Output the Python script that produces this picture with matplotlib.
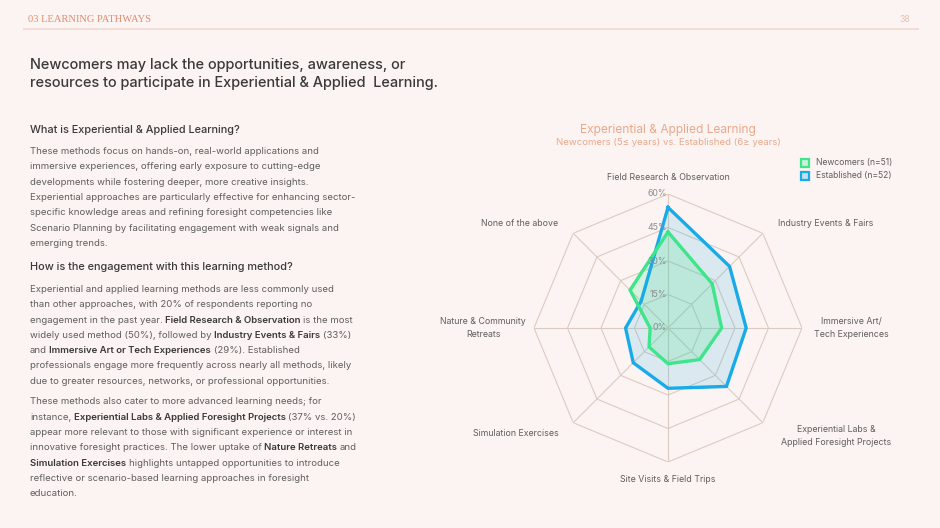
import numpy as np
import matplotlib
matplotlib.use("Agg")
import matplotlib.pyplot as plt
from matplotlib.lines import Line2D
from matplotlib.patches import Rectangle

# ------------------------------
# data
# ------------------------------
categories = ["Field Research & Observation", "Industry Events & Fairs",
              "Immersive Art/\nTech Experiences",
              "Experiential Labs &\nApplied Foresight Projects",
              "Site Visits & Field Trips", "Simulation Exercises",
              "Nature & Community\nRetreats", "None of the above"]
newcomers = [43, 28, 24, 20, 16, 12, 8, 24]
established = [54, 39, 35, 37, 27, 22, 19, 17]
series_names = ["Newcomers (n=51)", "Established (n=52)"]
r_ticks = [0, 15, 30, 45, 60]

# ------------------------------
# style
# ------------------------------
W, H = 940, 528
BG = "#FCF4F2"
DARK = "#3A3A3A"
BODY = "#5E5E5E"
PEACH = "#E8A88A"
GRID = "#DCCBC1"
BLUE = "#18ABE8"
GREEN = "#3FE58A"
FONT = ["Inter", "DejaVu Sans"]
BODY_SIZE = 6.9

plt.rcParams["font.family"] = FONT

fig = plt.figure(figsize=(W / 100, H / 100), dpi=100)
fig.patch.set_facecolor(BG)
renderer = fig.canvas.get_renderer()


def fx(x):
    return x / W


def fy(y):
    return 1 - y / H


def text_w(s, **kw):
    t = fig.text(0, 0, s, **kw)
    w = t.get_window_extent(renderer).width
    t.remove()
    return w


def rich_line(x, y, parts, size=BODY_SIZE):
    # parts: list of (text, bold)
    cx = x
    sp = text_w("a a", fontsize=size) - text_w("aa", fontsize=size)
    for txt, bold in parts:
        kw = dict(fontsize=size, fontweight="semibold" if bold else "normal")
        lead = len(txt) - len(txt.lstrip(" "))
        trail = len(txt) - len(txt.rstrip(" "))
        core = txt.strip(" ")
        cx += lead * sp
        if core:
            t = fig.text(fx(cx), fy(y), core, color=DARK if bold else BODY,
                         va="baseline", ha="left", **kw)
            cx += t.get_window_extent(renderer).width - 0.3
        cx += trail * sp


# ------------------------------
# header
# ------------------------------
fig.text(fx(28), fy(20), "03 LEARNING PATHWAYS", family="Liberation Serif",
         fontsize=7.6, color="#E08C6C", va="center", ha="left")
fig.text(fx(910), fy(20), "38", fontsize=6.3, color="#E6C2B2", va="center", ha="right")
fig.add_artist(Line2D([fx(24), fx(918)], [fy(29), fy(29)], color="#F1DAD1", lw=1.3))

fig.text(fx(30), fy(65), "Newcomers may lack the opportunities, awareness, or",
         fontsize=10.45, fontweight="medium", color=DARK, va="center", ha="left")
fig.text(fx(30), fy(83.5), "resources to participate in Experiential & Applied  Learning.",
         fontsize=10.45, fontweight="medium", color=DARK, va="center", ha="left")

# ------------------------------
# left text column
# ------------------------------
fig.text(fx(30), fy(130), "What is Experiential & Applied Learning?", fontsize=7.85,
         fontweight="medium", color=DARK, va="center", ha="left")

p1 = [
    [("These methods focus on hands-on, real-world applications and", False)],
    [("immersive experiences, offering early exposure to cutting-edge", False)],
    [("developments while fostering deeper, more creative insights.", False)],
    [("Experiential approaches are particularly effective for enhancing sector-", False)],
    [("specific knowledge areas and refining foresight competencies like", False)],
    [("Scenario Planning by facilitating engagement with weak signals and", False)],
    [("emerging trends.", False)],
]
for i, parts in enumerate(p1):
    rich_line(30, 150.7 + i * 15.33 + 3.3, parts)

fig.text(fx(30), fy(267.5), "How is the engagement with this learning method?", fontsize=7.85,
         fontweight="medium", color=DARK, va="center", ha="left")

p2 = [
    [("Experiential and applied learning methods are less commonly used", False)],
    [("than other approaches, with 20% of respondents reporting no", False)],
    [("engagement in the past year. ", False), ("Field Research & Observation", True),
     (" is the most", False)],
    [("widely used method (50%), followed by ", False), ("Industry Events & Fairs", True),
     (" (33%)", False)],
    [("and ", False), ("Immersive Art or Tech Experiences", True), (" (29%). Established", False)],
    [("professionals engage more frequently across nearly all methods, likely", False)],
    [("due to greater resources, networks, or professional opportunities.", False)],
]
for i, parts in enumerate(p2):
    rich_line(30, 288.7 + i * 15.27 + 3.3, parts)

p3 = [
    [("These methods also cater to more advanced learning needs; for", False)],
    [("instance, ", False), ("Experiential Labs & Applied Foresight Projects", True),
     (" (37% vs. 20%)", False)],
    [("appear more relevant to those with significant experience or interest in", False)],
    [("innovative foresight practices. The lower uptake of ", False),
     ("Nature Retreats", True), (" and", False)],
    [("Simulation Exercises", True), (" highlights untapped opportunities to introduce", False)],
    [("reflective or scenario-based learning approaches in foresight", False)],
    [("education.", False)],
]
for i, parts in enumerate(p3):
    rich_line(30, 401 + i * 15.33 + 3.3, parts)

# ------------------------------
# radar chart
# ------------------------------
cx, cy, rad = 668, 328, 134
ax = fig.add_axes([fx(cx - rad), fy(cy + rad), 2 * rad / W, 2 * rad / H], projection="polar")
ax.set_facecolor("none")
ax.set_theta_zero_location("N")
ax.set_theta_direction(-1)
ax.set_ylim(0, 60)
ax.grid(False)
ax.spines["polar"].set_visible(False)
ax.set_xticks([])
ax.set_yticks([])

n = len(categories)
theta = np.linspace(0, 2 * np.pi, n, endpoint=False)
theta_c = np.append(theta, theta[0])

for r in r_ticks[1:]:
    ax.plot(theta_c, [r] * (n + 1), color=GRID, lw=0.8, zorder=1)
for th in theta:
    ax.plot([th, th], [0, r_ticks[-1]], color=GRID, lw=0.8, zorder=1)

for vals, col, fa in [(established, BLUE, 0.15), (newcomers, GREEN, 0.2)]:
    v = np.append(vals, vals[0])
    ax.fill(theta_c, v, color=col, alpha=fa, lw=0, zorder=2)
    ax.plot(theta_c, v, color=col, lw=2.4, zorder=3, solid_joinstyle="miter")

for r in r_ticks:
    ax.annotate(f"{r}%", (0, r), xytext=(-1, 0), textcoords="offset points",
                ha="right", va="center", fontsize=6.3, color="#8C8C8C", zorder=4)

label_pos = [(668, 177), (826, 223), (851, 328), (836, 436),
             (668, 479), (516, 433), (483, 328), (520, 223)]
for lab, (lx, ly) in zip(categories, label_pos):
    fig.text(fx(lx), fy(ly), lab, fontsize=6.35, color=BODY, ha="center", va="center",
             linespacing=1.5)

fig.text(fx(668), fy(130), "Experiential & Applied Learning", fontsize=8.6,
         color=PEACH, ha="center", va="center")
fig.text(fx(668), fy(143), "Newcomers (5\u2264 years) vs. Established (6\u2265 years)",
         fontsize=6.9, color=PEACH, ha="center", va="center")

# legend
for i, (name, col) in enumerate(zip(series_names, [GREEN, BLUE])):
    yy = 163 + i * 13
    fig.add_artist(Rectangle((fx(801), fy(yy + 4)), 8 / W, 8 / H, facecolor=col,
                             alpha=0.25, edgecolor="none", transform=fig.transFigure))
    fig.add_artist(Rectangle((fx(801), fy(yy + 4)), 8 / W, 8 / H, facecolor="none",
                             edgecolor=col, lw=1.6, transform=fig.transFigure))
    fig.text(fx(816), fy(yy), name, fontsize=6.2, color=BODY, ha="left", va="center")

fig.savefig("out.png", dpi=100, facecolor=BG)
